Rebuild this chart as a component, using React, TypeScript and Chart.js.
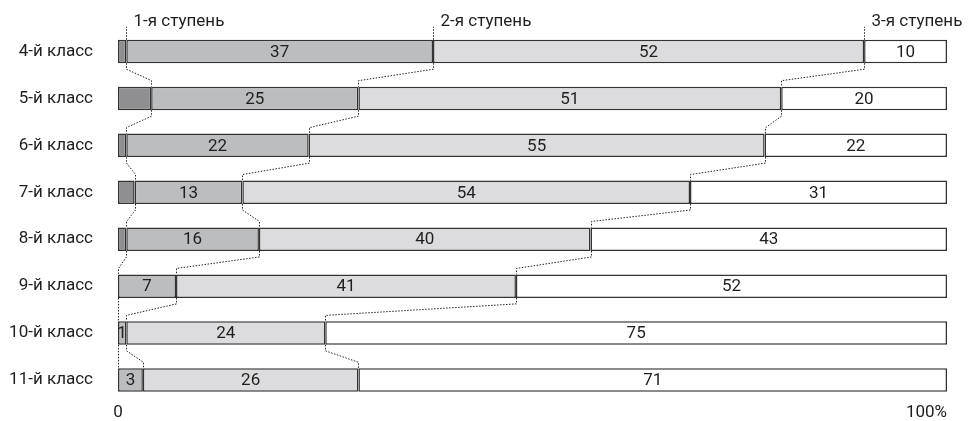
import { useEffect, useRef } from "react";
import { Chart, registerables } from "chart.js";

Chart.register(...registerables);

const categories = [
  "4-й класс",
  "5-й класс",
  "6-й класс",
  "7-й класс",
  "8-й класс",
  "9-й класс",
  "10-й класс",
  "11-й класс",
];
// below 1st level (unlabelled dark segment)
const belowLevel: (number | null)[] = [1, 4, 1, 2, 1, null, null, null];
const level1 = [37, 25, 22, 13, 16, 7, 1, 3];
const level2 = [52, 51, 55, 54, 40, 41, 24, 26];
const level3 = [10, 20, 22, 31, 43, 52, 75, 71];
const levelNames = ["1-я ступень", "2-я ступень", "3-я ступень"];
const xTickValues = [0, 100];
const xTickLabels = ["0", "100%"];

const FONT = "Roboto, 'Liberation Sans', sans-serif";
const FONT_SIZE = 17;
const TEXT = "#1e1e1e";
const EDGE = "#333";

const overlay = {
  id: "overlay",
  afterDatasetsDraw(chart: any) {
    const ctx = chart.ctx as CanvasRenderingContext2D;
    const xs = chart.scales.x;
    const area = chart.chartArea;
    ctx.save();

    // value labels
    ctx.font = `${FONT_SIZE}px ${FONT}`;
    ctx.fillStyle = TEXT;
    ctx.textAlign = "center";
    ctx.textBaseline = "middle";
    [1, 2, 3].forEach((di) => {
      const meta = chart.getDatasetMeta(di);
      const vals = chart.data.datasets[di].data as (number | null)[];
      meta.data.forEach((el: any, i: number) => {
        const v = vals[i];
        if (v == null) return;
        ctx.fillText(String(v), (el.x + el.base) / 2, el.y + 1);
      });
    });

    // boundaries
    const starts = (r: number) => {
      const d = belowLevel[r] ?? 0;
      return [d, d + level1[r], d + level1[r] + level2[r]];
    };
    const px = (v: number) => Math.round(xs.getPixelForValue(v)) + 0.5;
    const bars = chart.getDatasetMeta(1).data as any[];
    ctx.strokeStyle = "#222";
    ctx.lineWidth = 1;
    ctx.setLineDash([1.5, 1.5]);
    for (let r = 0; r < categories.length - 1; r++) {
      const yb = bars[r].y + bars[r].height / 2;
      const yt = bars[r + 1].y - bars[r + 1].height / 2;
      const s = 6;
      const a = starts(r);
      const b = starts(r + 1);
      for (let k = 0; k < 3; k++) {
        const x1 = px(a[k]);
        const x2 = px(b[k]);
        ctx.beginPath();
        ctx.moveTo(x1, yb);
        ctx.lineTo(x1, yb + s);
        ctx.lineTo(x2, yt - s);
        ctx.lineTo(x2, yt);
        ctx.stroke();
      }
    }

    // header labels
    const top0 = bars[0].y - bars[0].height / 2;
    const s0 = starts(0);
    ctx.textAlign = "left";
    ctx.textBaseline = "alphabetic";
    for (let k = 0; k < 3; k++) {
      const xk = px(s0[k]);
      ctx.beginPath();
      ctx.moveTo(xk, top0);
      ctx.lineTo(xk, top0 - 13);
      ctx.stroke();
      ctx.fillText(levelNames[k], xk + 7, top0 - 14);
    }

    // x tick labels
    ctx.setLineDash([]);
    ctx.textBaseline = "middle";
    xTickValues.forEach((v, i) => {
      const p = xs.getPixelForValue(v);
      ctx.textAlign = i === xTickValues.length - 1 ? "right" : "center";
      ctx.fillText(xTickLabels[i], p, area.bottom + 9);
    });
    ctx.restore();
  },
};

export default function App() {
  const ref = useRef<HTMLCanvasElement | null>(null);
  useEffect(() => {
    if (!ref.current) return;
    const common = {
      borderColor: EDGE,
      borderWidth: 1.5,
      borderSkipped: false as const,
      barPercentage: 0.5,
      categoryPercentage: 1,
      inflateAmount: 0,
    };
    const chart = new Chart(ref.current, {
      type: "bar",
      data: {
        labels: categories,
        datasets: [
          { label: "ниже 1-й ступени", data: belowLevel, backgroundColor: "#8f8f91", ...common },
          { label: levelNames[0], data: level1, backgroundColor: "#bcbdbf", ...common },
          { label: levelNames[1], data: level2, backgroundColor: "#dcdcde", ...common },
          { label: levelNames[2], data: level3, backgroundColor: "#ffffff", ...common },
        ],
      },
      options: {
        indexAxis: "y",
        responsive: false,
        animation: false,
        layout: { padding: { left: 0, right: 28, top: 28, bottom: 17.5 } },
        plugins: { legend: { display: false }, tooltip: { enabled: false } },
        scales: {
          x: { stacked: true, min: 0, max: 100, display: false },
          y: {
            stacked: true,
            grid: { display: false, drawTicks: false },
            border: { display: false },
            ticks: { color: TEXT, padding: 25, font: { family: FONT, size: FONT_SIZE } },
            afterFit: (s: any) => {
              s.width = 118;
              s.paddingTop = 0;
              s.paddingBottom = 0;
            },
          },
        },
      },
      plugins: [overlay],
    } as any);
    return () => chart.destroy();
  }, []);
  return (
    <div style={{ position: "fixed", left: 0, top: 0, width: 975, height: 421, background: "#fff" }}>
      <canvas ref={ref} width={975} height={421} style={{ width: 975, height: 421 }} />
    </div>
  );
}
